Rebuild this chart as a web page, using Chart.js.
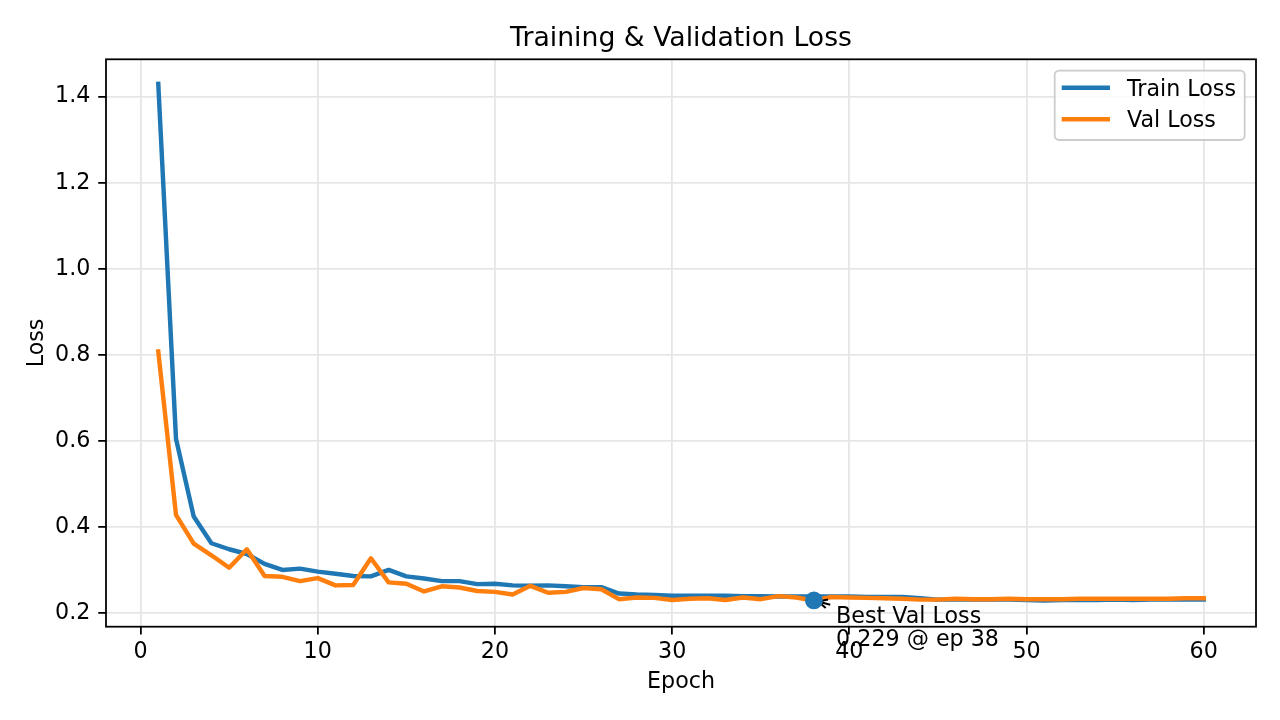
<!DOCTYPE html>
<html>
<head>
<meta charset="utf-8">
<title>Training & Validation Loss</title>
<script src="https://cdn.jsdelivr.net/npm/chart.js@4.4.1/dist/chart.umd.min.js"></script>
<style>
  html, body { margin: 0; padding: 0; background: #fff; }
  canvas { display: block; }
</style>
</head>
<body>
<canvas id="lossChart" width="1280" height="720"></canvas>
<script>
const epochs = [
  1, 2, 3, 4, 5, 6, 7, 8, 9, 10, 11, 12, 13, 14, 15, 16, 17, 18, 19, 20,
  21, 22, 23, 24, 25, 26, 27, 28, 29, 30, 31, 32, 33, 34, 35, 36, 37, 38, 39, 40,
  41, 42, 43, 44, 45, 46, 47, 48, 49, 50, 51, 52, 53, 54, 55, 56, 57, 58, 59, 60
];

const trainLoss = [
  1.430, 0.605, 0.424, 0.362, 0.348, 0.337, 0.314, 0.300, 0.303, 0.296,
  0.291, 0.286, 0.285, 0.300, 0.285, 0.280, 0.274, 0.274, 0.267, 0.268,
  0.264, 0.263, 0.264, 0.262, 0.260, 0.260, 0.245, 0.243, 0.242, 0.240,
  0.240, 0.240, 0.240, 0.239, 0.239, 0.238, 0.238, 0.238, 0.238, 0.238,
  0.237, 0.237, 0.237, 0.234, 0.231, 0.232, 0.231, 0.231, 0.231, 0.230,
  0.229, 0.230, 0.230, 0.230, 0.231, 0.230, 0.231, 0.231, 0.231, 0.231
];

const valLoss = [
  0.808, 0.428, 0.361, 0.334, 0.305, 0.348, 0.286, 0.284, 0.274, 0.281,
  0.264, 0.265, 0.327, 0.271, 0.268, 0.250, 0.262, 0.259, 0.251, 0.249,
  0.243, 0.263, 0.247, 0.249, 0.258, 0.255, 0.232, 0.236, 0.235, 0.230,
  0.233, 0.234, 0.230, 0.236, 0.232, 0.239, 0.236, 0.229, 0.237, 0.236,
  0.235, 0.234, 0.233, 0.231, 0.231, 0.233, 0.232, 0.232, 0.233, 0.232,
  0.232, 0.232, 0.233, 0.233, 0.233, 0.233, 0.233, 0.233, 0.234, 0.234
];

const xTicks = [0, 10, 20, 30, 40, 50, 60];
const yTicks = [0.2, 0.4, 0.6, 0.8, 1.0, 1.2, 1.4];

const seriesLabels = ['Train Loss', 'Val Loss'];
const seriesColors = ['#1f77b4', '#ff7f0e'];

// best validation epoch, found from the data
let bestIdx = 0;
valLoss.forEach((v, i) => { if (v < valLoss[bestIdx]) bestIdx = i; });
const bestEpoch = epochs[bestIdx];
const bestVal = valLoss[bestIdx];

const FONT = '"DejaVu Sans", "Liberation Sans", sans-serif';
const PT = 160 / 72; // figure was 160 dpi

const toPoints = (ys) => epochs.map((e, i) => ({ x: e, y: ys[i] }));

const decorPlugin = {
  id: 'decor',
  beforeDatasetDraw(chart, args) {
    if (args.index !== 2) return;
    // little arrow from the label towards the best point (under the marker)
    const ctx = chart.ctx;
    const px = chart.scales.x.getPixelForValue(bestEpoch);
    const py = chart.scales.y.getPixelForValue(bestVal);
    const dx = 0.968, dy = 0.249;
    const tip = [px + 2 * PT * dx, py + 2 * PT * dy];
    const tail = [px + 7.6 * PT * dx, py + 7.6 * PT * dy];
    const back = [tip[0] + 4 * PT * dx, tip[1] + 4 * PT * dy];
    const hw = 2 * PT;
    ctx.save();
    ctx.strokeStyle = '#000';
    ctx.lineWidth = 2;
    ctx.lineCap = 'butt';
    ctx.beginPath();
    ctx.moveTo(tail[0], tail[1]);
    ctx.lineTo(tip[0], tip[1]);
    ctx.moveTo(back[0] - hw * dy, back[1] + hw * dx);
    ctx.lineTo(tip[0], tip[1]);
    ctx.lineTo(back[0] + hw * dy, back[1] - hw * dx);
    ctx.stroke();
    ctx.restore();
  },
  afterDraw(chart) {
    const ctx = chart.ctx;
    const a = chart.chartArea;
    const cx = (a.left + a.right) / 2;
    const cy = (a.top + a.bottom) / 2;

    ctx.save();
    // spines
    ctx.strokeStyle = '#000';
    ctx.lineWidth = 0.8 * PT;
    ctx.strokeRect(a.left, a.top, a.right - a.left, a.bottom - a.top);

    // title and axis labels
    ctx.fillStyle = '#000';
    ctx.textAlign = 'center';
    ctx.textBaseline = 'alphabetic';
    ctx.font = (12 * PT).toFixed(1) + 'px ' + FONT;
    ctx.fillText('Training & Validation Loss', cx, a.top - 13.6);
    ctx.font = (10 * PT).toFixed(1) + 'px ' + FONT;
    ctx.fillText('Epoch', cx, a.bottom + 61);
    ctx.save();
    ctx.translate(a.left - 63.3, cy);
    ctx.rotate(-Math.PI / 2);
    ctx.fillText('Loss', 0, 0);
    ctx.restore();

    // annotation text
    const px = chart.scales.x.getPixelForValue(bestEpoch);
    const py = chart.scales.y.getPixelForValue(bestVal);
    ctx.textAlign = 'left';
    ctx.fillText('Best Val Loss', px + 10 * PT, py + 22.3);
    ctx.fillText(bestVal.toFixed(3) + ' @ ep ' + bestEpoch, px + 10 * PT, py + 45.3);

    // legend
    const bx = a.right - 11.3 - 190, by = a.top + 11.4, bw = 190, bh = 69.3, r = 4.4;
    ctx.beginPath();
    ctx.roundRect(bx, by, bw, bh, r);
    ctx.fillStyle = 'rgba(255,255,255,0.8)';
    ctx.fill();
    ctx.strokeStyle = '#cccccc';
    ctx.lineWidth = 1.8;
    ctx.stroke();
    const rows = [by + 17, by + 48.6];
    seriesLabels.forEach((lab, i) => {
      ctx.strokeStyle = seriesColors[i];
      ctx.lineWidth = 2 * PT;
      ctx.lineCap = 'butt';
      ctx.beginPath();
      ctx.moveTo(bx + 7, rows[i]);
      ctx.lineTo(bx + 55.3, rows[i]);
      ctx.stroke();
      ctx.fillStyle = '#000';
      ctx.fillText(lab, bx + 72.3, rows[i] + 8);
    });
    ctx.restore();
  }
};

const gridColor = '#e6e6e6';
const tickFont = { family: FONT, size: 10 * PT };

const config = {
  type: 'line',
  data: {
    datasets: [
      {
        label: seriesLabels[0],
        data: toPoints(trainLoss),
        borderColor: seriesColors[0],
        borderWidth: 2 * PT,
        borderJoinStyle: 'round',
        borderCapStyle: 'square',
        pointRadius: 0,
        tension: 0,
        order: 3
      },
      {
        label: seriesLabels[1],
        data: toPoints(valLoss),
        borderColor: seriesColors[1],
        borderWidth: 2 * PT,
        borderJoinStyle: 'round',
        borderCapStyle: 'square',
        pointRadius: 0,
        tension: 0,
        order: 2
      },
      {
        label: 'Best',
        data: [{ x: bestEpoch, y: bestVal }],
        showLine: false,
        pointRadius: 4 * PT,
        pointBackgroundColor: seriesColors[0],
        pointBorderWidth: 0,
        order: 1
      }
    ]
  },
  options: {
    responsive: false,
    animation: false,
    devicePixelRatio: 1,
    layout: { padding: { left: 0, right: 24, top: 59.3, bottom: 0 } },
    plugins: {
      legend: { display: false },
      title: { display: false },
      tooltip: { enabled: false }
    },
    scales: {
      x: {
        type: 'linear',
        min: -1.95,
        max: 62.95,
        afterBuildTicks: (s) => { s.ticks = xTicks.map(v => ({ value: v })); },
        afterFit: (s) => { s.height = 93.3; },
        grid: {
          color: gridColor,
          lineWidth: 0.8 * PT,
          tickColor: '#000',
          tickLength: 3.5 * PT,
          tickWidth: 0.8 * PT
        },
        border: { display: false },
        ticks: { color: '#000', font: tickFont, padding: 4, maxRotation: 0 }
      },
      y: {
        type: 'linear',
        min: 0.168,
        max: 1.487,
        afterBuildTicks: (s) => { s.ticks = yTicks.map(v => ({ value: v })); },
        afterFit: (s) => { s.width = 106; },
        grid: {
          color: gridColor,
          lineWidth: 0.8 * PT,
          tickColor: '#000',
          tickLength: 3.5 * PT,
          tickWidth: 0.8 * PT
        },
        border: { display: false },
        ticks: {
          color: '#000',
          font: tickFont,
          padding: 3.5 * PT,
          callback: (v) => Number(v).toFixed(1)
        }
      }
    }
  },
  plugins: [decorPlugin]
};

// eslint-disable-next-line
const lossChart = new Chart(document.getElementById('lossChart'), config);
</script>
</body>
</html>
